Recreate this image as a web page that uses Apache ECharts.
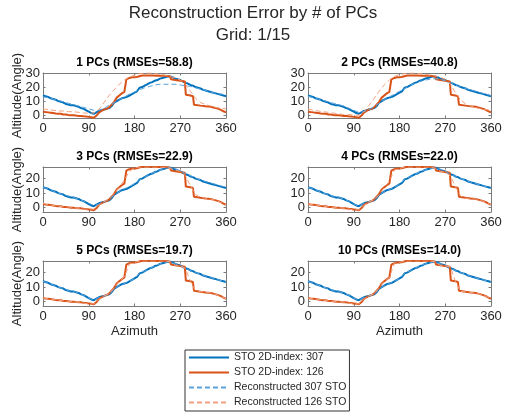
<!DOCTYPE html>
<html>
<head>
<meta charset="utf-8">
<script src="https://cdn.jsdelivr.net/npm/echarts@6/dist/echarts.min.js"></script>
<style>
  html, body { margin: 0; padding: 0; background: #fff; }
  #chart { width: 506px; height: 413px; }
</style>
</head>
<body>
<div id="chart"></div>
<script>
// ---- data ----
const azimuthTicks = [0, 90, 180, 270, 360];

// measured sun-track-obstruction profile, grid point 307
const az307 = [0,5,10,15,20,25,30,35,40,45,50,55,60,65,70,75,80,85,90,95,100,105,110,115,120,125,130,135,140,145,150,155,160,165,170,175,180,185,190,195,200,205,210,215,220,225,230,235,240,245,250,255,260,265,270,275,280,285,290,295,300,305,310,315,320,325,330,335,340,345,350,355,360];
const alt307 = [14,13.5,13,12,11.5,11,10,9.5,9,8,7.5,7,7,6.5,6,5,4.5,3.5,2.5,1.5,1,2,3,3.5,4,4.5,5,6.5,9,10,11,12,12.5,13,14,15,16,17,19.5,20,21,22,23,23.5,24.5,25,26,26.5,27,27.5,27.5,27,26,25.5,25,24,23,22.5,21.5,21,20,19.5,19,18,17.5,17,16.5,16,15.5,15,14.5,14,13.5];

// measured profile, grid point 126 (stepped)
const az126 = [0,5,10,15,20,25,30,35,40,45,50,55,60,65,70,75,80,85,90,95,100,103,106,110,115,120,125,130,135,140,143,145,150,155,160,163,164,170,175,180,184,186,195,205,215,225,235,245,250,252,260,270,279,281,290,295,297,300,310,320,330,335,340,345,350,355,360];
const alt126 = [2.5,2.2,2,1.8,1.5,1.2,1,1,0.5,0.5,0.2,0,0,-0.3,-0.5,-0.5,-0.8,-1,-1.2,-1.5,-1.8,-2,0,1.8,3,4,4.5,5.5,7.5,9.5,10,12.5,14,15.5,16.5,17,25.5,26.5,27,27,27.2,28,28.2,28.3,28.2,28,28,27.8,27.5,25.5,25,24.5,24,14.5,14,13.5,7.5,7,6.8,6.3,6,5.5,5,4.5,3.8,2.8,2];

// reconstructions sampled every 10 degrees of azimuth
const recAzimuth = [0,10,20,30,40,50,60,70,80,90,100,110,120,130,140,150,160,170,180,190,200,210,220,230,240,250,260,270,280,290,300,310,320,330,340,350,360];

const rec307_1  = [13,12.5,11.5,10.5,9.5,8.5,7.5,6.5,5.5,4.5,3.5,3.5,5,7,9,11,13,15,16.5,18,19.5,20.5,21.5,22,22,22,22,21.5,21,20.5,19.5,18.5,17.5,16.5,15.5,15,14.5];
const rec126_1  = [4.5,4,3.5,3,3,2.5,2.5,2,1.5,1.5,1.5,4,9,14,18,22,25,27,28.5,29.5,30,30,29.5,29,28.5,27.5,26.5,25,22,17,12,9,7.5,6.5,5.5,5,4.5];
const rec307_2  = [13.5,12.5,11.5,10.5,9.5,8.5,7.5,6.5,5,3.5,2,2.5,4,6,8.5,11,13,15,17,19,21,22.5,24,25,25.5,26,25.5,24.5,23,21.5,20,19,18,17,16,15,14];
const rec126_2  = [4.5,3.5,3,2.5,2,1.5,1,0.5,0.5,0,0,2.5,7,12,17,21.5,25,27.5,29,29.5,30,30,29.5,29,28.5,28,27,25.5,22,16,11,8,6.5,5.5,4.5,4,3.5];
const rec307_3  = [14,13,11.5,10,9,8,7,6,4.5,3,1.5,2.5,4,6,8.5,11,13,14.5,16.5,19,21,23,24.5,26,27,27.5,27,25.5,23.5,22,20.5,19,18,17,16,15,14];
const rec126_3  = [3,2,1.5,1,0.5,0.5,0,-0.5,-1,-1,-1,1.5,4,6.5,10,14,19,25,27.5,28,28,28,28,28,27.5,27,26,25,22,15,9,7,6.5,6,5,3.5,2];
const rec307_4  = [14,13,11.5,10,9,7.5,7,6,4.5,2.5,1,3,4,5.5,9,11,12.5,14,16,19.5,21,23,24.5,26,27,27.5,26.5,25,23,21.5,20,19,17.5,16.5,15.5,14.5,13.5];
const rec126_4  = [2.5,2,1.5,1,0.5,0,0,-0.5,-1,-1.5,-1.5,1.5,4,5.5,9,14,18,26,27,28,28,28,28,28,28,27,25,24.5,22,14.5,8,6.5,6,6,5,3.5,2];
const rec307_5  = [14,13,11.5,10,9,7.5,7,6,4.5,2.5,1,3,4,5,9,11,12.5,14,16,19.5,21,23,24.5,26,27,27.5,26,25,23,21.5,20,19,17.5,16.5,15.5,14.5,13.5];
const rec126_5  = [2.5,2,1.5,1,0.5,0,0,-0.5,-1,-1.5,-1.5,1.5,4,5.5,9.5,14,17,26,27,28,28,28,28,28,28,27.5,25,24.5,23,14,7.5,7,6.5,6,5,3.5,2];
const rec307_10 = [14,13,11.5,10,9,7.5,7,6,4.5,2.5,1,3,4,5,9,11,12.5,14,16,19.5,21,23,24.5,26,27,27.5,26,25,23,21.5,20,19,17.5,16.5,15.5,14.5,13.5];
const rec126_10 = [2.5,2,1.5,1,0.5,0,0,-0.5,-1,-1.5,-1.5,1.8,4,5.5,9.5,14,16.5,26.5,27,28,28,28,28,28,28,27.5,25,24.5,24,14,7,6.8,6.3,6,5,3.8,2];

const panelTitles = ['1 PCs (RMSEs=58.8)','2 PCs (RMSEs=40.8)','3 PCs (RMSEs=22.9)','4 PCs (RMSEs=22.0)','5 PCs (RMSEs=19.7)','10 PCs (RMSEs=14.0)'];
const rec307 = [rec307_1, rec307_2, rec307_3, rec307_4, rec307_5, rec307_10];
const rec126 = [rec126_1, rec126_2, rec126_3, rec126_4, rec126_5, rec126_10];

const altTicksTop = [0, 10, 20, 30];
const altTicks = [0, 10, 20];

const seriesNames = ['STO 2D-index: 307', 'STO 2D-index: 126', 'Reconstructed 307 STO', 'Reconstructed 126 STO'];

// ---- layout / styling ----
const textColor = '#262626';
const boxColor = '#7a7a7a';
const colLeft = [43, 308];
const colWidth = 183;
const rowTop = [73, 167, 261];
const rowHeight = 45;

const zip = (xs, ys) => xs.map((x, i) => [x, ys[i]]);

const grids = [], xAxes = [], yAxes = [], series = [], titles = [], labels = [];

titles.push({ text: 'Reconstruction Error by # of PCs', left: 'center', top: 5, padding: 0,
  textStyle: { fontFamily: 'Liberation Sans', fontSize: 17, fontWeight: 'normal', color: textColor } });
titles.push({ text: 'Grid: 1/15', left: 'center', top: 27, padding: 0,
  textStyle: { fontFamily: 'Liberation Sans', fontSize: 17, fontWeight: 'normal', color: textColor } });

for (let i = 0; i < 6; i++) {
  const row = Math.floor(i / 2), col = i % 2;
  const left = colLeft[col], top = rowTop[row];
  grids.push({ left: left, top: top, width: colWidth, height: rowHeight, show: false, containLabel: false });

  titles.push({ text: panelTitles[i], left: left + colWidth / 2, top: top - 16.5, textAlign: 'center', padding: 0,
    textStyle: { fontFamily: 'Liberation Sans', fontSize: 12, fontWeight: 'bold', color: '#000' } });

  // vertical axis title, left column only
  if (col === 0) {
    labels.push({ type: 'text', x: 17, y: top + rowHeight / 2, rotation: Math.PI / 2, silent: true,
      style: { text: 'Altitude(Angle)', fill: textColor, font: '13px "Liberation Sans"',
        align: 'center', verticalAlign: 'middle' } });
  }

  const yMin = row === 0 ? -2 : -3;
  const yMax = row === 0 ? 30 : 28;
  const yt = row === 0 ? altTicksTop : altTicks;

  const lineStyle = { color: boxColor, width: 1 };
  xAxes.push({
    type: 'value', gridIndex: i, position: 'bottom', min: 0, max: 360, interval: 90,
    axisLine: { show: true, onZero: false, lineStyle },
    axisTick: { show: true, inside: true, length: 2.5, lineStyle },
    axisLabel: { fontFamily: 'Liberation Sans', fontSize: 13, color: textColor, margin: 4,
      showMinLabel: true, showMaxLabel: true, formatter: v => azimuthTicks.includes(v) ? String(v) : '' },
    splitLine: { show: false },
    name: row === 2 ? 'Azimuth' : '', nameLocation: 'middle', nameGap: 19,
    nameTextStyle: { fontFamily: 'Liberation Sans', fontSize: 13, color: textColor }
  });
  xAxes.push({
    type: 'value', gridIndex: i, position: 'top', min: 0, max: 360, interval: 90,
    axisLine: { show: true, onZero: false, lineStyle },
    axisTick: { show: true, inside: true, length: 2.5, lineStyle },
    axisLabel: { show: false }, splitLine: { show: false }
  });
  yAxes.push({
    type: 'value', gridIndex: i, position: 'left', min: yMin, max: yMax,
    axisLine: { show: true, onZero: false, lineStyle },
    axisTick: { show: true, inside: true, length: 2.5, lineStyle, customValues: yt },
    axisLabel: { fontFamily: 'Liberation Sans', fontSize: 13, color: textColor, margin: 3, customValues: yt },
    splitLine: { show: false }
  });
  yAxes.push({
    type: 'value', gridIndex: i, position: 'right', min: yMin, max: yMax,
    axisLine: { show: true, onZero: false, lineStyle },
    axisTick: { show: true, inside: true, length: 2.5, lineStyle, customValues: yt },
    axisLabel: { show: false }, splitLine: { show: false }
  });

  const base = { type: 'line', xAxisIndex: 2 * i, yAxisIndex: 2 * i, symbol: 'none', showSymbol: false,
    animation: false, silent: true, clip: true };
  series.push(Object.assign({}, base, { name: seriesNames[0], data: zip(az307, alt307), z: 2,
    color: '#0072BD', lineStyle: { color: '#0072BD', width: 2 } }));
  series.push(Object.assign({}, base, { name: seriesNames[1], data: zip(az126, alt126), z: 2,
    color: '#D95319', lineStyle: { color: '#D95319', width: 2 } }));
  series.push(Object.assign({}, base, { name: seriesNames[2], data: zip(recAzimuth, rec307[i]), z: 3,
    color: '#5BA3DC', lineStyle: { color: '#5BA3DC', width: 1, type: [5, 3] } }));
  series.push(Object.assign({}, base, { name: seriesNames[3], data: zip(recAzimuth, rec126[i]), z: 3,
    color: '#F0A07E', lineStyle: { color: '#F0A07E', width: 1, type: [5, 3] } }));
}

const chart = echarts.init(document.getElementById('chart'), null, { renderer: 'canvas' });
chart.setOption({
  backgroundColor: '#fff',
  animation: false,
  title: titles,
  grid: grids,
  xAxis: xAxes,
  yAxis: yAxes,
  graphic: labels,
  legend: {
    data: seriesNames, orient: 'vertical', left: 185, top: 350,
    itemWidth: 40, itemHeight: 12, itemGap: 4, padding: [2, 3, 3, 3],
    itemStyle: { opacity: 0, borderWidth: 0 },
    borderColor: '#333', borderWidth: 1, backgroundColor: '#fff',
    selectedMode: false,
    textStyle: { fontFamily: 'Liberation Sans', fontSize: 10.5, color: textColor }
  },
  series: series
});
</script>
</body>
</html>
